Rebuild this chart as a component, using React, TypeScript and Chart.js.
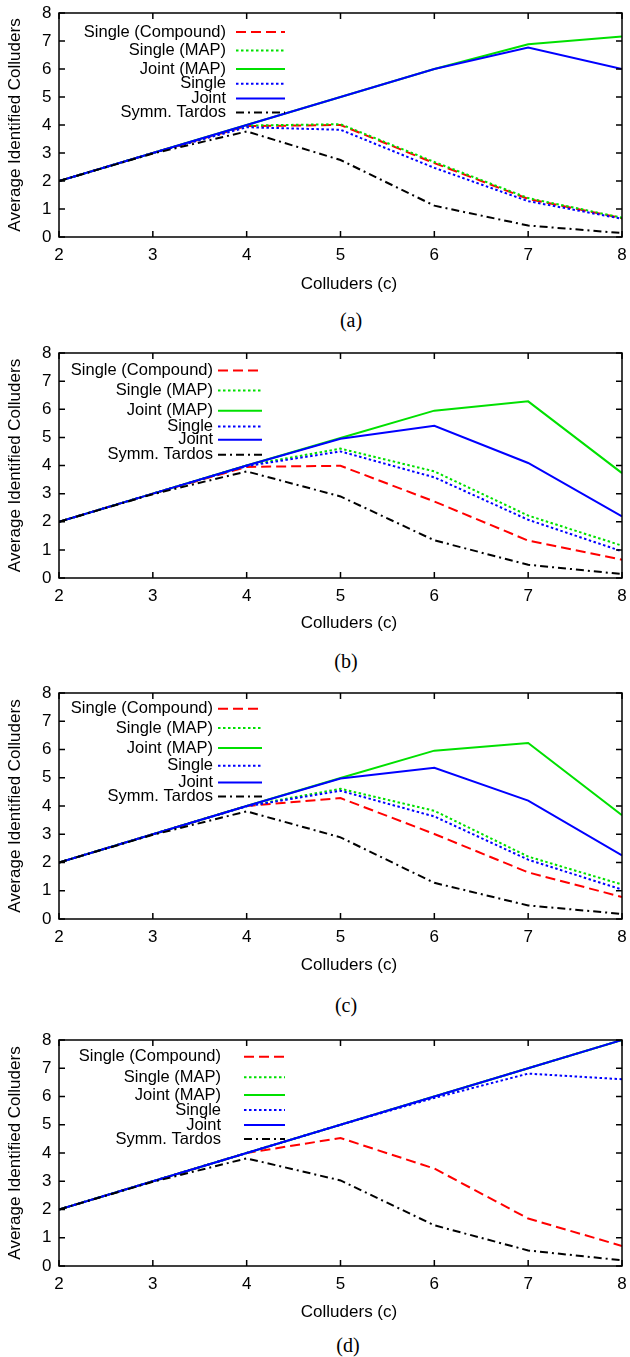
import React, { useEffect, useRef } from 'react';
import { Chart, registerables } from 'chart.js';

Chart.register(...registerables);

// ---------- data ----------
const colluders = [2, 3, 4, 5, 6, 7, 8];
const xTickValues = [2, 3, 4, 5, 6, 7, 8];
const yTickValues = [0, 1, 2, 3, 4, 5, 6, 7, 8];
const seriesNames = ['Single (Compound)', 'Single (MAP)', 'Joint (MAP)', 'Single', 'Joint', 'Symm. Tardos'];
const xAxisTitle = 'Colluders (c)';
const yAxisTitle = 'Average Identified Colluders';
const captions = ['(a)', '(b)', '(c)', '(d)'];

// panel (a)
const singleCompoundA = [2, 3, 3.96, 4.0, 2.64, 1.36, 0.67];
const singleMapA = [2, 3, 3.98, 4.03, 2.68, 1.39, 0.69];
const jointMapA = [2, 3, 4, 5, 6, 6.88, 7.16];
const singleA = [2, 3, 3.92, 3.83, 2.47, 1.28, 0.65];
const jointA = [2, 3, 4, 5, 6, 6.77, 6.0];
const tardosA = [2, 2.98, 3.77, 2.75, 1.12, 0.41, 0.14];

// panel (b)
const singleCompoundB = [2, 3, 3.95, 3.99, 2.72, 1.33, 0.65];
const singleMapB = [2, 3, 4.0, 4.6, 3.79, 2.22, 1.15];
const jointMapB = [2, 3, 4, 4.98, 5.95, 6.28, 3.73];
const singleB = [2, 3, 3.98, 4.5, 3.58, 2.07, 0.95];
const jointB = [2, 3, 4, 4.95, 5.41, 4.09, 2.19];
const tardosB = [2, 2.98, 3.79, 2.9, 1.34, 0.47, 0.14];

// panel (c)
const singleCompoundC = [2, 3, 4.0, 4.28, 3.01, 1.65, 0.78];
const singleMapC = [2, 3, 4.0, 4.61, 3.83, 2.21, 1.22];
const jointMapC = [2, 3, 4, 4.99, 5.96, 6.23, 3.67];
const singleC = [2, 3, 3.99, 4.54, 3.63, 2.1, 1.04];
const jointC = [2, 3, 4, 4.97, 5.35, 4.19, 2.25];
const tardosC = [2, 2.98, 3.81, 2.89, 1.28, 0.48, 0.18];

// panel (d)
const singleCompoundD = [2, 3, 4.0, 4.53, 3.45, 1.68, 0.71];
const singleMapD = [2, 3, 4, 5, 6, 7, 8];
const jointMapD = [2, 3, 4, 5, 6, 7, 8];
const singleD = [2, 3, 4, 5, 5.95, 6.81, 6.61];
const jointD = [2, 3, 4, 5, 6, 7, 8];
const tardosD = [2, 2.98, 3.81, 3.03, 1.44, 0.55, 0.2];

const panelSeries = [
  [singleCompoundA, singleMapA, jointMapA, singleA, jointA, tardosA],
  [singleCompoundB, singleMapB, jointMapB, singleB, jointB, tardosB],
  [singleCompoundC, singleMapC, jointMapC, singleC, jointC, tardosC],
  [singleCompoundD, singleMapD, jointMapD, singleD, jointD, tardosD],
];

// ---------- styles / layout ----------
const lineStyles = [
  { color: '#ff0000', dash: [10, 5] },
  { color: '#00e000', dash: [2.5, 2.5] },
  { color: '#00e000', dash: [] },
  { color: '#0000ff', dash: [2.5, 2.5] },
  { color: '#0000ff', dash: [] },
  { color: '#000000', dash: [8, 4, 2, 4] },
];

const SANS = "'Liberation Sans', Arial, sans-serif";
const PAD_TOP = 13;

const panelLayouts = [
  { top: 13, h: 224, rows: [19, 37.5, 56, 70.7, 85.4, 99.4], textRight: 226, sample: [236, 285], xTitleDy: 52, cap: [351, 321.7] },
  { top: 353, h: 225, rows: [17.4, 37.4, 57.7, 73.4, 86.7, 101.7], textRight: 213, sample: [218, 262], xTitleDy: 50, cap: [346, 662.5] },
  { top: 693, h: 226, rows: [15.7, 35, 55, 72.7, 89.4, 103.4], textRight: 213, sample: [218, 262], xTitleDy: 50.5, cap: [346, 1006.7] },
  { top: 1040, h: 226, rows: [16.7, 37.3, 55, 70, 85, 99], textRight: 221, sample: [244, 285], xTitleDy: 50.5, cap: [348, 1346.7] },
];

function Panel({ series, layout, index }: { series: number[][]; layout: any; index: number }) {
  const ref = useRef<HTMLCanvasElement>(null);
  const canvasH = PAD_TOP + layout.h + 60;

  useEffect(() => {
    if (!ref.current) return;
    const datasets = series.map((vals, i) => ({
      label: seriesNames[i],
      data: colluders.map((x, j) => ({ x, y: vals[j] })),
      borderColor: lineStyles[i].color,
      borderDash: lineStyles[i].dash,
      borderWidth: 2,
      pointRadius: 0,
      fill: false,
      tension: 0,
      order: seriesNames.length - i,
    }));

    const framePlugin = {
      id: 'gnuFrame',
      afterDatasetsDraw(chart: any) {
        const { ctx, chartArea: a, scales } = chart;
        ctx.save();
        ctx.setLineDash([]);
        ctx.strokeStyle = '#000';
        ctx.lineWidth = 1.5;
        ctx.strokeRect(a.left, a.top, a.right - a.left, a.bottom - a.top);
        const tl = 6;
        ctx.beginPath();
        yTickValues.forEach((v) => {
          const y = scales.y.getPixelForValue(v);
          ctx.moveTo(a.left, y); ctx.lineTo(a.left + tl, y);
          ctx.moveTo(a.right, y); ctx.lineTo(a.right - tl, y);
        });
        xTickValues.forEach((v) => {
          const x = scales.x.getPixelForValue(v);
          ctx.moveTo(x, a.bottom); ctx.lineTo(x, a.bottom - tl);
          ctx.moveTo(x, a.top); ctx.lineTo(x, a.top + tl);
        });
        ctx.stroke();

        // legend
        ctx.font = `16.5px ${SANS}`;
        ctx.fillStyle = '#000';
        ctx.textAlign = 'right';
        ctx.textBaseline = 'middle';
        seriesNames.forEach((name, i) => {
          const y = a.top + layout.rows[i];
          ctx.fillText(name, layout.textRight, y);
          ctx.beginPath();
          ctx.strokeStyle = lineStyles[i].color;
          ctx.lineWidth = 2;
          ctx.setLineDash(lineStyles[i].dash);
          ctx.moveTo(layout.sample[0], y);
          ctx.lineTo(layout.sample[1], y);
          ctx.stroke();
        });
        ctx.setLineDash([]);

        // axis titles
        ctx.fillStyle = '#000';
        ctx.font = `17px ${SANS}`;
        ctx.textAlign = 'center';
        ctx.textBaseline = 'alphabetic';
        ctx.fillText(xAxisTitle, 349, a.bottom + layout.xTitleDy);
        ctx.save();
        ctx.translate(15.5, (a.top + a.bottom) / 2);
        ctx.rotate(-Math.PI / 2);
        ctx.textBaseline = 'middle';
        ctx.fillText(yAxisTitle, 0, 0);
        ctx.restore();
        ctx.restore();
      },
    };

    const chart = new Chart(ref.current, {
      type: 'line',
      data: { datasets },
      options: {
        animation: false,
        responsive: false,
        maintainAspectRatio: false,
        devicePixelRatio: 1,
        layout: { padding: { top: PAD_TOP, left: 0, right: 8, bottom: 20 } },
        plugins: { legend: { display: false }, tooltip: { enabled: false } },
        scales: {
          x: {
            type: 'linear',
            min: 2,
            max: 8,
            grid: { display: false, drawTicks: false },
            border: { display: false },
            ticks: { stepSize: 1, padding: 8, color: '#000', font: { family: SANS, size: 17 } },
            afterBuildTicks: (s: any) => { s.ticks = xTickValues.map((v) => ({ value: v })); },
            afterFit: (s: any) => { s.height = 40; s.paddingLeft = 0; s.paddingRight = 0; },
          },
          y: {
            type: 'linear',
            min: 0,
            max: 8,
            grid: { display: false, drawTicks: false },
            border: { display: false },
            ticks: { stepSize: 1, padding: 7.5, color: '#000', font: { family: SANS, size: 17 } },
            afterBuildTicks: (s: any) => { s.ticks = yTickValues.map((v) => ({ value: v })); },
            afterFit: (s: any) => { s.width = 59; s.paddingTop = 0; s.paddingBottom = 0; },
          },
        },
      },
      plugins: [framePlugin],
    } as any);
    return () => chart.destroy();
  }, []);

  return (
    <>
      <canvas
        ref={ref}
        width={630}
        height={canvasH}
        style={{ position: 'absolute', left: 0, top: layout.top - PAD_TOP, width: 630, height: canvasH }}
      />
      <div
        style={{
          position: 'absolute',
          left: layout.cap[0] - 100,
          width: 200,
          top: layout.cap[1] - 14,
          height: 24,
          lineHeight: '24px',
          textAlign: 'center',
          fontFamily: "'Liberation Serif', 'Times New Roman', serif",
          fontSize: 20,
          color: '#000',
        }}
      >
        {captions[index]}
      </div>
    </>
  );
}

export default function App() {
  return (
    <div style={{ position: 'absolute', left: 0, top: 0, width: 630, height: 1357, background: '#fff', overflow: 'hidden' }}>
      {panelSeries.map((s, i) => (
        <Panel key={i} series={s} layout={panelLayouts[i]} index={i} />
      ))}
    </div>
  );
}
